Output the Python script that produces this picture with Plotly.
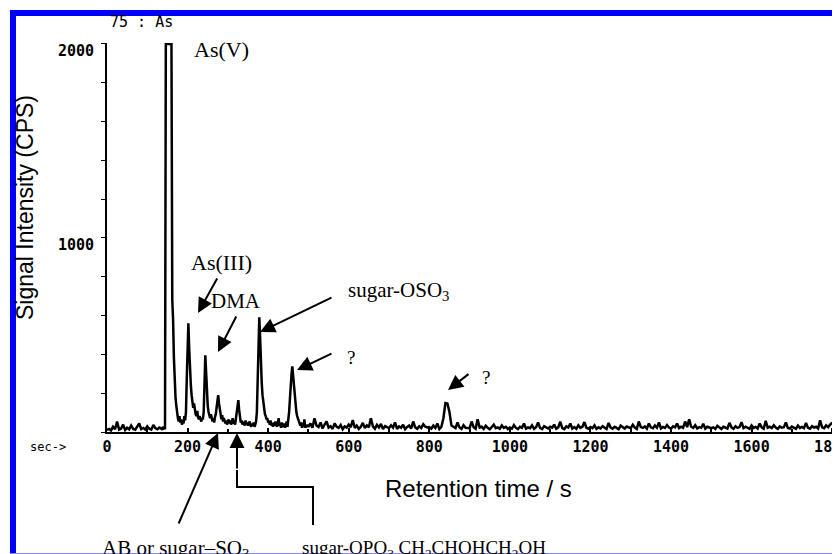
import plotly.graph_objects as go

# ---------------- data ----------------
# segment A: 0-135 s, every 5 s
t_a = list(range(0, 140, 5))
cps_a = [11, 16, 8, 27, 14, 54, 12, 18, 38, 10,
         22, 14, 33, 16, 12, 25, 44, 15, 21, 13,
         29, 17, 12, 36, 20, 14, 23, 16]

# segment B: 136-498 s, every 2 s (peak region)
t_b = list(range(136, 500, 2))
cps_b = [18, 12, 27, 22, 14, 2000, 2000, 2000, 2000, 2000,
         2000, 2000, 2000, 680, 582, 386, 256, 180, 136, 92,
         71, 54, 82, 49, 65, 38, 54, 44, 82, 60,
         103, 277, 473, 560, 430, 310, 245, 190, 158, 125,
         147, 103, 92, 82, 109, 76, 65, 82, 60, 54,
         71, 65, 103, 234, 395, 310, 180, 136, 103, 82,
         71, 92, 60, 54, 71, 49, 76, 92, 125, 169,
         190, 147, 109, 82, 65, 87, 54, 71, 49, 44,
         60, 38, 54, 65, 44, 60, 38, 49, 71, 44,
         54, 38, 71, 103, 147, 164, 114, 65, 49, 60,
         38, 54, 44, 33, 60, 38, 49, 33, 44, 54,
         38, 27, 44, 33, 49, 27, 38, 54, 103, 277,
         473, 591, 495, 343, 256, 190, 147, 125, 92, 82,
         65, 71, 49, 54, 38, 60, 33, 44, 27, 49,
         33, 54, 38, 27, 44, 71, 33, 38, 22, 49,
         33, 27, 44, 22, 38, 54, 27, 60, 103, 169,
         256, 299, 338, 288, 234, 180, 136, 103, 82, 65,
         54, 44, 33, 49, 22, 38, 27, 65, 22, 33,
         27, 38]

# segment C: 500-1800 s, every 5 s
t_c = list(range(500, 1805, 5))
cps_c = [27, 44, 22, 71, 33, 25, 49, 18, 38, 54, 23, 30, 16, 44, 27, 21, 36, 14, 29, 23,
         38, 25, 62, 21, 33, 16, 27, 47, 20, 34, 24, 71, 29, 17, 37, 23, 42, 15, 30, 25,
         20, 35, 23, 49, 16, 29, 22, 38, 14, 26, 33, 18, 54, 24, 17, 30, 21, 40, 27, 23,
         25, 17, 33, 21, 44, 15, 27, 71, 149, 147, 103, 33, 27, 20, 49, 23, 16, 35, 22, 20,
         20, 54, 25, 17, 66, 23, 27, 16, 32, 22, 14, 26, 38, 20, 24, 17, 34, 21, 27, 15,
         23, 18, 36, 21, 15, 27, 22, 44, 17, 24, 20, 34, 16, 25, 49, 21, 15, 30, 23, 18,
         27, 22, 38, 17, 24, 53, 20, 15, 29, 23, 44, 18, 25, 16, 35, 21, 27, 51, 22, 17,
         26, 20, 34, 16, 24, 18, 30, 22, 15, 47, 23, 17, 27, 21, 14, 33, 24, 18, 28, 22,
         20, 37, 23, 16, 54, 25, 21, 29, 17, 44, 24, 20, 34, 22, 49, 18, 26, 21, 36, 23,
         17, 29, 24, 44, 20, 27, 22, 54, 25, 66, 27, 21, 35, 18, 25, 22, 42, 17, 27, 23,
         20, 24, 16, 32, 22, 15, 27, 23, 18, 47, 24, 17, 30, 21, 25, 51, 20, 27, 22, 16,
         34, 21, 26, 18, 44, 24, 17, 58, 22, 27, 20, 35, 23, 16, 29, 22, 25, 49, 21, 18,
         28, 23, 16, 33, 21, 26, 20, 46, 22, 17, 30, 23, 27, 18, 60, 24, 20, 34, 25, 38,
         49]

x_ticks = [0, 200, 400, 600, 800, 1000, 1200, 1400, 1600, 1800]
x_ticklabels = ["0", "200", "400", "600", "800", "1000", "1200", "1400", "1600", "1800"]
y_ticks = [1000, 2000]
y_ticklabels = ["1000", "2000"]

times = t_a + t_b + t_c
signal = cps_a + cps_b + cps_c

# ---------------- layout helpers ----------------
# the page body adds an 8 px margin, so the figure is shifted back by that amount
OFF = 8
W, H = 840, 554
L, T = 107, 43          # plot area position on the page
PW, PH = 728, 389


def px(x):
    return (x - L) / PW


def py(y):
    return (T + PH - y) / PH


fig = go.Figure()
fig.add_trace(go.Scatter(x=times, y=signal, mode="lines",
                         line=dict(color="black", width=2.5),
                         hoverinfo="skip", showlegend=False))

tickfont = dict(family="DejaVu Sans Mono", size=15, color="black", weight="bold")
serif = "Liberation Serif, Times New Roman, serif"
sans = "Liberation Sans, Arial, sans-serif"

fig.update_layout(
    width=W, height=H,
    margin=dict(l=L - OFF, r=W - (L - OFF) - PW, t=T - OFF, b=H - (T - OFF) - PH,
                autoexpand=False),
    paper_bgcolor="white", plot_bgcolor="white",
    showlegend=False,
    xaxis=dict(range=[0, 1807], showgrid=False, zeroline=False, automargin=False,
               showline=True, linecolor="black", linewidth=2,
               tickvals=x_ticks, ticktext=x_ticklabels,
               ticks="inside", ticklen=4, tickwidth=1.5, tickcolor="black",
               minor=dict(ticks="inside", dtick=100, tick0=0, ticklen=3, tickcolor="black"),
               ticklabeloverflow="allow",
               tickfont=tickfont),
    yaxis=dict(range=[0, 2005], showgrid=False, zeroline=False, automargin=False,
               showline=True, linecolor="black", linewidth=1.5,
               tickvals=y_ticks, showticklabels=False,
               ticks="outside", ticklen=4, tickwidth=1.2, tickcolor="black",
               minor=dict(ticks="outside", dtick=200, tick0=0, ticklen=4, tickcolor="black")),
)

ann = []


def text(x, y, s, size, family, **kw):
    ann.append(dict(x=px(x), y=py(y), xref="paper", yref="paper", text=s,
                    showarrow=False, font=dict(size=size, family=family, color="black"),
                    xanchor="center", yanchor="middle", **kw))


def arrow(x0, y0, x1, y1):
    ann.append(dict(x=px(x1), y=py(y1), xref="paper", yref="paper",
                    ax=x0 - x1, ay=y0 - y1, axref="pixel", ayref="pixel",
                    text="", showarrow=True, arrowhead=2, arrowsize=1.5,
                    arrowwidth=2, arrowcolor="black", standoff=0))


# y tick labels, set just below their ticks as in the instrument printout
for v, lab in zip(y_ticks, y_ticklabels):
    ann.append(dict(x=px(96), y=v, xref="paper", yref="y", text=lab, showarrow=False,
                    font=tickfont, xanchor="right", yanchor="middle", yshift=-7))

text(141, 22, "75 : As", 15, "DejaVu Sans Mono")
text(48, 447, "sec->", 12, "DejaVu Sans Mono")
text(25, 208, "Signal Intensity (CPS)", 23, sans, textangle=-90)
text(478, 488, "Retention time / s", 24, sans)

text(221, 50, "As(V)", 22, serif)
text(221, 262, "As(III)", 22, serif)
text(236, 301, "DMA", 21, serif)
text(398, 291, "sugar-OSO<sub>3</sub>", 21, serif)
text(351, 357, "?", 19, serif)
text(486, 377, "?", 19, serif)
text(175, 549, "AB or sugar–SO<sub>3</sub>", 21, serif)
text(424, 549, "sugar-OPO<sub>3</sub> CH<sub>2</sub>CHOHCH<sub>2</sub>OH", 19, serif)

arrow(218, 277, 198, 313)
arrow(237, 315, 218, 352)
arrow(333, 297, 260, 332)
arrow(333, 353, 297, 370)
arrow(470, 373, 448, 390)
arrow(178, 525, 218, 433)
arrow(237, 470, 237, 433)

fig.update_layout(annotations=ann)

shapes = [
    # elbow connector for sugar-OPO3 label
    dict(type="path", xref="paper", yref="paper",
         path=f"M {px(313)},{py(525)} L {px(313)},{py(487)} L {px(237)},{py(487)} L {px(237)},{py(470)}",
         line=dict(color="black", width=2)),
    # blue frame
    dict(type="rect", xref="paper", yref="paper", x0=px(10), x1=px(16), y0=py(570), y1=py(10),
         fillcolor="#0000FF", line=dict(width=0), layer="above"),
    dict(type="rect", xref="paper", yref="paper", x0=px(10), x1=px(860), y0=py(16), y1=py(10),
         fillcolor="#0000FF", line=dict(width=0), layer="above"),
    dict(type="line", xref="paper", yref="paper", x0=px(10), x1=px(860), y0=py(553.5), y1=py(553.5),
         line=dict(color="#8888ff", width=1)),
]
fig.update_layout(shapes=shapes)

fig.write_html("out.html")
